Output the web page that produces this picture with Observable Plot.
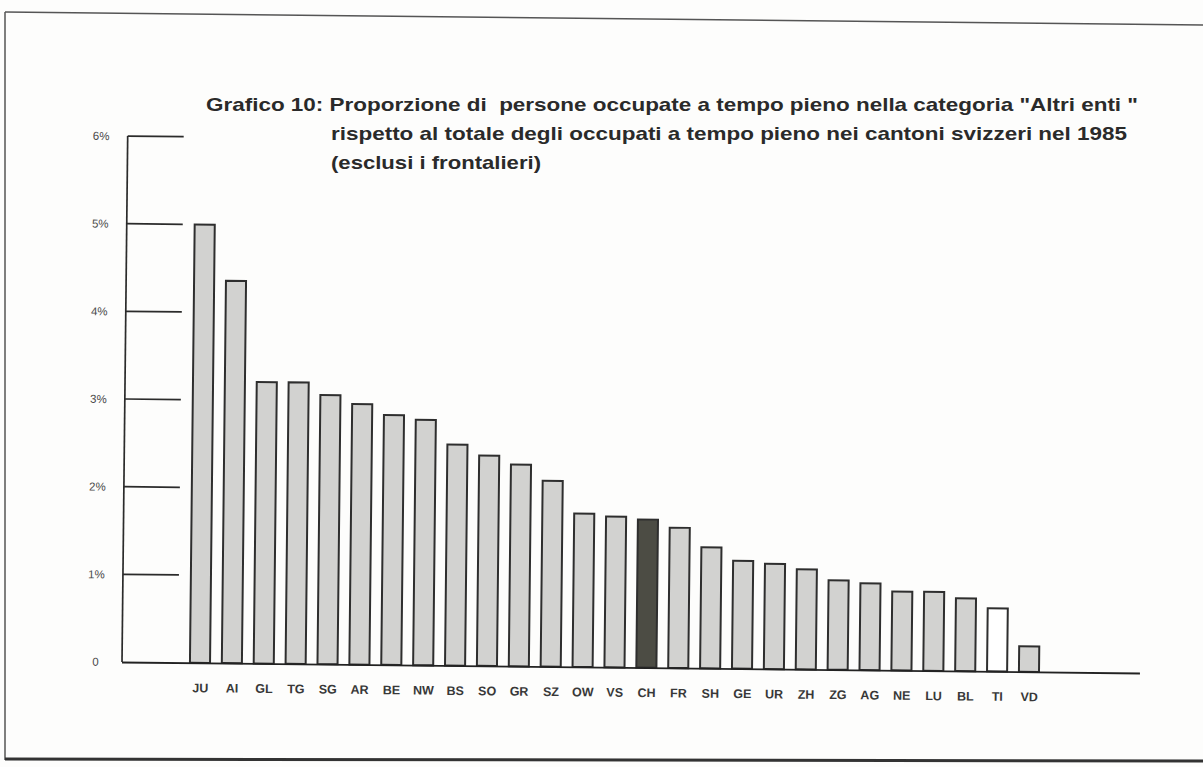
<!DOCTYPE html>
<html>
<head>
<meta charset="utf-8">
<script src="https://cdn.jsdelivr.net/npm/d3@7"></script>
<script src="https://cdn.jsdelivr.net/npm/@observablehq/plot@0.6"></script>
<style>
  html, body { margin: 0; padding: 0; background: #fdfdfc; }
  #wrap { position: relative; width: 1203px; height: 767px; overflow: hidden; background: #fdfdfc; }
  #chart { position: absolute; left: 0; top: 0; width: 1203px; height: 767px; }
  #chart svg { transform-origin: 122px 662px; transform: rotate(0.62deg); background: transparent; }
  #overlay { position: absolute; left: 0; top: 0; pointer-events: none; }
</style>
</head>
<body>
<div id="wrap">
  <div id="chart"></div>
  <svg id="overlay" width="1203" height="767"></svg>
</div>
<script>
// ---- data ----
const cantons = ["JU","AI","GL","TG","SG","AR","BE","NW","BS","SO","GR","SZ","OW","VS","CH","FR","SH","GE","UR","ZH","ZG","AG","NE","LU","BL","TI","VD"];
const shares  = [5.00,4.36,3.21,3.21,3.07,2.97,2.85,2.80,2.52,2.40,2.30,2.12,1.75,1.72,1.69,1.60,1.38,1.23,1.20,1.14,1.02,0.99,0.90,0.90,0.83,0.72,0.29];
const kinds   = ["c","c","c","c","c","c","c","c","c","c","c","c","c","c","total","c","c","c","c","c","c","c","c","c","c","blank","c"];
const yTicks = [0,1,2,3,4,5,6];
const yTickLabels = ["0","1%","2%","3%","4%","5%","6%"];
const titleLines = [
  "Grafico 10: Proporzione di  persone occupate a tempo pieno nella categoria \"Altri enti \"",
  "rispetto al totale degli occupati a tempo pieno nei cantoni svizzeri nel 1985",
  "(esclusi i frontalieri)"
];

const data = cantons.map((c, i) => ({canton: c, value: shares[i], kind: kinds[i]}));

// y-axis line with inward tick marks, drawn through Plot's y scale
function yAxisLines(index, scales, values, dimensions) {
  const g = d3.create("svg:g").attr("stroke", "#2b2b2b").attr("stroke-width", 1.7).attr("fill", "none");
  const x0 = dimensions.marginLeft;
  g.append("line").attr("x1", x0).attr("x2", x0)
    .attr("y1", scales.y(d3.max(yTicks))).attr("y2", scales.y(0));
  for (const t of yTicks) {
    if (t === 0) continue;
    g.append("line").attr("x1", x0).attr("x2", x0 + 56)
      .attr("y1", scales.y(t)).attr("y2", scales.y(t));
  }
  return g.node();
}

const chart = Plot.plot({
  width: 1203,
  height: 767,
  marginLeft: 122,
  marginRight: 63,
  marginTop: 136,
  marginBottom: 105,
  style: {fontFamily: "'Liberation Sans', Arial, sans-serif", background: "transparent", color: "#333"},
  x: {domain: cantons, range: [174, 1055], paddingInner: 0.37, paddingOuter: 0.5, align: 0.5, round: false, label: null},
  y: {domain: [0, 6], label: null},
  color: {domain: ["c", "total", "blank"], range: ["#d2d2d0", "#4c4c44", "#ffffff"]},
  marks: [
    Plot.barY(data, {x: "canton", y: "value", fill: "kind", stroke: "#2e2e2e", strokeWidth: 2}),
    Plot.ruleY([0], {stroke: "#222", strokeWidth: 1.8}),
    yAxisLines,
    Plot.axisX({label: null, tickSize: 0, tickPadding: 20, fontSize: 12.5, fontWeight: "bold", fill: "#383838"}),
    Plot.axisY({label: null, ticks: yTicks, tickSize: 0, tickPadding: 27, textAnchor: "middle", fontSize: 11.5, fill: "#4a4a4a",
      tickFormat: d => yTickLabels[yTicks.indexOf(d)]})
  ]
});
document.getElementById("chart").appendChild(chart);

// ---- overlay: title and page border ----
const ov = d3.select("#overlay");
ov.append("line").attr("x1", 5).attr("x2", 1203).attr("y1", 12).attr("y2", 25).attr("stroke", "#555").attr("stroke-width", 1.5);
ov.append("line").attr("x1", 5).attr("x2", 5).attr("y1", 12).attr("y2", 760).attr("stroke", "#555").attr("stroke-width", 1.5);
ov.append("line").attr("x1", 5).attr("x2", 1203).attr("y1", 759).attr("y2", 761).attr("stroke", "#333").attr("stroke-width", 3);

const tl = [
  {x: 206, y: 111, w: 932},
  {x: 331, y: 140, w: 796},
  {x: 331, y: 169, w: 210}
];
titleLines.forEach((t, i) => {
  ov.append("text")
    .attr("x", tl[i].x).attr("y", tl[i].y)
    .attr("textLength", tl[i].w).attr("lengthAdjust", "spacingAndGlyphs")
    .attr("font-family", "'Liberation Sans', Arial, sans-serif")
    .attr("font-weight", "bold").attr("font-size", 18.5).attr("fill", "#2a2a2a")
    .attr("xml:space", "preserve")
    .style("white-space", "pre")
    .text(t);
});
</script>
</body>
</html>
